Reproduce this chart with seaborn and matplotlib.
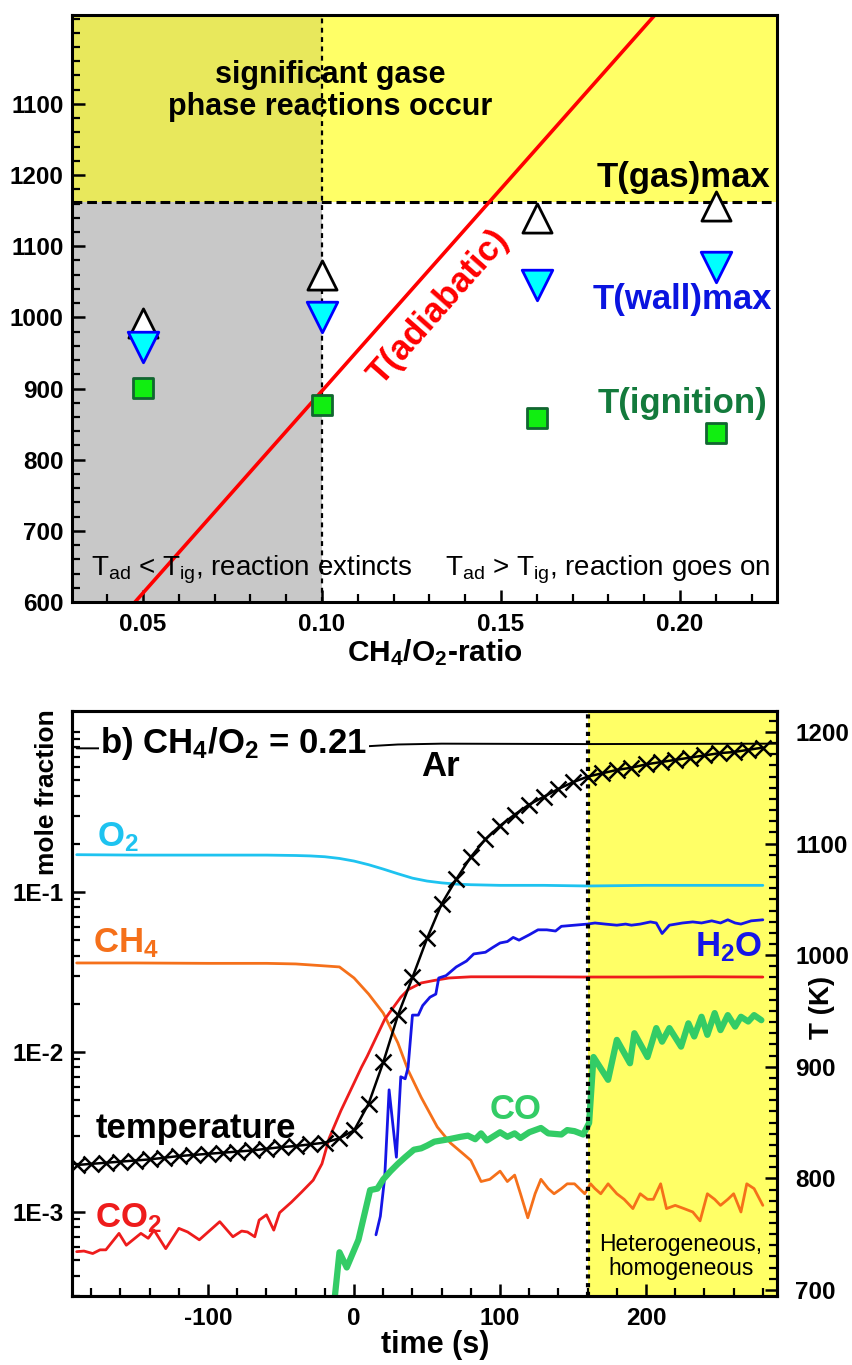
import numpy as np
import pandas as pd
import matplotlib
matplotlib.use("Agg")
import matplotlib.pyplot as plt
import seaborn as sns
from matplotlib.ticker import MultipleLocator, FixedLocator, LogLocator, NullFormatter

# ---------------- panel a data ----------------
ratio = [0.05, 0.10, 0.16, 0.21]
t_gas_max = [992, 1059, 1140, 1157]
t_wall_max = [958, 1001, 1045, 1071]
t_ignition = [901, 877, 859, 837]
adiabatic_ratio = [0.0478, 0.193]
adiabatic_T = [600, 1425]
gas_phase_limit = 1162
ratio_limit = 0.10
a_xticks = [0.05, 0.10, 0.15, 0.20]
a_xticklabels = ["0.05", "0.10", "0.15", "0.20"]
a_yticks = [600, 700, 800, 900, 1000, 1100, 1200, 1300]
a_yticklabels = ["600", "700", "800", "900", "1000", "1100", "1200", "1100"]

# ---------------- panel b data ----------------
t_temp = list(range(-190, 281, 10))
temp = [812, 813, 814, 815, 816, 817, 818.5, 820, 821, 822,
        823, 824, 825, 826.5, 828, 829, 830.5, 832, 836, 843,
        867, 904, 946, 980, 1015, 1046, 1068, 1088, 1104, 1116,
        1126, 1135, 1142, 1149, 1155, 1160, 1163, 1166, 1168, 1171,
        1173, 1175, 1177, 1179, 1181, 1182, 1184, 1186]

t_ar = [-190, -60, 0, 10, 30, 60, 160, 289]
ar = [0.79, 0.79, 0.80, 0.815, 0.835, 0.845, 0.84, 0.845]

t_o2 = [-190, -150, -100, -60, -40, -30, -20, -10, 0, 10, 20, 30, 40, 50,
        60, 70, 80, 100, 130, 160, 200, 240, 280]
o2 = [0.171, 0.170, 0.170, 0.170, 0.169, 0.168, 0.166, 0.162, 0.156, 0.148,
      0.139, 0.130, 0.122, 0.117, 0.114, 0.112, 0.111, 0.110, 0.110, 0.109,
      0.110, 0.110, 0.110]

t_ch4 = [-190, -150, -100, -60, -40, -30, -20, -10, 0, 10, 20, 30, 37, 46,
         57, 66, 75, 80, 87, 93, 100, 105, 110, 114, 119, 124, 128, 133, 137,
         142, 146, 151, 158, 162, 165, 169, 174, 180, 185, 191, 196, 201, 205,
         210, 214, 220, 226, 232, 237, 242, 247, 251, 256, 260, 265, 269, 274, 280]
ch4 = [0.036, 0.036, 0.0358, 0.0358, 0.0355, 0.035, 0.0345, 0.034, 0.029, 0.023,
       0.0175, 0.0114, 0.0077, 0.0052, 0.0034, 0.0027, 0.0023, 0.0021, 0.00155,
       0.0016, 0.0018, 0.00155, 0.0017, 0.0013, 0.00092, 0.0013, 0.0016, 0.0014,
       0.0013, 0.0014, 0.0015, 0.0015, 0.0013, 0.0015, 0.0014, 0.0013, 0.0015,
       0.0013, 0.0012, 0.00105, 0.0013, 0.0012, 0.0012, 0.0015, 0.00105, 0.0011,
       0.00105, 0.0010, 0.00088, 0.0013, 0.0012, 0.0011, 0.0012, 0.0013, 0.0010,
       0.0015, 0.0014, 0.0011]

t_co2 = [-190, -185, -179, -174, -170, -161, -156, -146, -141, -137, -129,
         -120, -114, -106, -92, -83, -77, -73, -68, -65, -60, -55, -51, -43,
         -36, -28, -22, -17, -9, 0, 5, 9, 21, 32, 37, 46, 55, 65, 80, 120,
         160, 200, 240, 280]
co2 = [5.65e-4, 5.7e-4, 5.5e-4, 5.8e-4, 5.8e-4, 7.35e-4, 6.2e-4, 7.35e-4,
       6.85e-4, 7.7e-4, 5.9e-4, 7.9e-4, 7.5e-4, 6.7e-4, 8.7e-4, 7.0e-4,
       7.6e-4, 7.5e-4, 7.0e-4, 8.9e-4, 9.6e-4, 7.7e-4, 9.9e-4, 1.15e-3,
       1.33e-3, 1.58e-3, 2.0e-3, 2.9e-3, 4.3e-3, 6.4e-3, 8.0e-3, 9.4e-3,
       0.016, 0.022, 0.0245, 0.027, 0.028, 0.029, 0.0295, 0.0295, 0.0294,
       0.0294, 0.0295, 0.0294]

t_h2o = [15, 18, 21, 24, 29, 32, 35, 37, 40, 44, 47, 52, 56, 58, 63, 70, 77,
         82, 90, 95, 100, 105, 109, 113, 120, 126, 132, 138, 142, 151, 160,
         165, 172, 180, 186, 190, 196, 203, 207, 211, 216, 225, 232, 238, 245,
         251, 256, 261, 265, 272, 280]
h2o = [7.2e-4, 9.4e-4, 1.65e-3, 5.8e-3, 2.2e-3, 7.0e-3, 6.8e-3, 8.0e-3, 0.017,
       0.017, 0.0195, 0.022, 0.023, 0.029, 0.030, 0.034, 0.037, 0.041, 0.042,
       0.045, 0.048, 0.049, 0.052, 0.050, 0.054, 0.058, 0.058, 0.057, 0.061,
       0.062, 0.063, 0.064, 0.063, 0.062, 0.063, 0.062, 0.063, 0.065, 0.064,
       0.055, 0.062, 0.064, 0.065, 0.064, 0.066, 0.064, 0.067, 0.064, 0.063,
       0.066, 0.067]

t_co = [-14, -10, -5, 3, 11, 16, 20, 25, 30, 35, 41, 46, 50, 55, 65, 73, 78,
        83, 87, 91, 100, 105, 110, 114, 120, 128, 133, 142, 146, 151, 157,
        161, 164, 174, 180, 189, 192, 201, 207, 211, 216, 224, 229, 233, 238,
        242, 247, 251, 256, 261, 265, 270, 274, 279]
co = [2.5e-4, 5.6e-4, 4.5e-4, 6.7e-4, 1.37e-3, 1.4e-3, 1.6e-3, 1.8e-3, 2.0e-3,
      2.2e-3, 2.45e-3, 2.5e-3, 2.6e-3, 2.75e-3, 2.85e-3, 2.95e-3, 3.0e-3,
      2.85e-3, 3.1e-3, 2.8e-3, 3.15e-3, 2.95e-3, 3.1e-3, 2.9e-3, 3.15e-3,
      3.35e-3, 3.1e-3, 3.05e-3, 3.25e-3, 3.2e-3, 3.05e-3, 3.6e-3, 9.3e-3,
      6.7e-3, 0.0119, 8.5e-3, 0.0131, 9.3e-3, 0.0141, 0.0116, 0.0141, 0.0108,
      0.0151, 0.0125, 0.0166, 0.0128, 0.0175, 0.0137, 0.017, 0.0144, 0.0166,
      0.0155, 0.017, 0.0158]
hetero_start = 160
b_yticks = [1e-3, 1e-2, 1e-1]
b_yticklabels = ["1E-3", "1E-2", "1E-1"]

# ---------------- style ----------------
sns.set_style("ticks")
plt.rcParams["font.family"] = ["Liberation Sans", "DejaVu Sans"]
plt.rcParams["font.weight"] = "bold"
plt.rcParams["axes.labelweight"] = "bold"
plt.rcParams["mathtext.default"] = "regular"
plt.rcParams["axes.unicode_minus"] = False
plt.rcParams["axes.linewidth"] = 2.2
for key in ["text.color", "axes.labelcolor", "xtick.color", "ytick.color",
            "axes.edgecolor", "xtick.labelcolor", "ytick.labelcolor"]:
    plt.rcParams[key] = "black"

C_O2 = "#1ec3f0"
C_CH4 = "#f5701a"
C_RED = "#ee1c1c"
C_H2O = "#1515e6"
C_CO = "#33cc66"
YELLOW = "#ffff66"
TICK_FS = 17.5

fig = plt.figure(figsize=(8.52, 13.65), dpi=100)
W, H = 852.0, 1365.0
ax1 = fig.add_axes([72 / W, 1 - 602 / H, 705 / W, 587 / H])
axb = fig.add_axes([72 / W, 1 - 1296 / H, 705 / W, 585 / H])
axt = axb.twinx()

# ================= panel a =================
ax1.fill_between([0, ratio_limit], 0, gas_phase_limit, color="#c8c8c8", lw=0, zorder=0)
ax1.fill_between([0, ratio_limit], gas_phase_limit, 3000, color="#e8e85c", lw=0, zorder=0)
ax1.fill_between([ratio_limit, 1], gas_phase_limit, 3000, color=YELLOW, lw=0, zorder=0)
ax1.axhline(gas_phase_limit, color="black", ls=(0, (3.2, 1.6)), lw=2.2, zorder=1)
ax1.axvline(ratio_limit, color="black", ls=(0, (2.2, 2.0)), lw=1.6, zorder=1)

sns.lineplot(x=adiabatic_ratio, y=adiabatic_T, ax=ax1, color="#ff0000", lw=2.6,
             sort=False, estimator=None, zorder=2)
sns.scatterplot(x=ratio, y=t_gas_max, ax=ax1, marker="^", s=21 ** 2,
                color="white", edgecolor="black", linewidth=2.0, zorder=4)
sns.scatterplot(x=ratio, y=t_wall_max, ax=ax1, marker="v", s=22 ** 2,
                color="#00ffff", edgecolor="#0000ff", linewidth=2.0, zorder=4)
sns.scatterplot(x=ratio, y=t_ignition, ax=ax1, marker="s", s=15 ** 2,
                color="#11ee11", edgecolor="#116630", linewidth=2.0, zorder=4)

ax1.set_xlim(0.0302, 0.2271)
ax1.set_ylim(600, 1425)
ax1.set_xticks(a_xticks)
ax1.set_xticklabels(a_xticklabels)
ax1.set_yticks(a_yticks)
ax1.set_yticklabels(a_yticklabels)
ax1.xaxis.set_minor_locator(MultipleLocator(0.01))
ax1.yaxis.set_minor_locator(MultipleLocator(20))
ax1.tick_params(which="major", direction="in", length=9, width=1.8, labelsize=TICK_FS,
                top=False, right=False, colors="black")
ax1.tick_params(which="minor", direction="in", length=5.5, width=1.6, top=False,
                right=False, colors="black")
ax1.tick_params(axis="x", pad=8)
ax1.tick_params(axis="y", pad=6)
for s in ax1.spines.values():
    s.set_linewidth(2.2)
    s.set_color("black")
    s.set_zorder(6)

ax1.text(0.366, 0.870, "significant gase\nphase reactions occur", transform=ax1.transAxes,
         ha="center", va="center", fontsize=22, linespacing=1.1, zorder=6)
ax1.text(0.990, 0.724, "T(gas)max", transform=ax1.transAxes, ha="right", va="center",
         fontsize=25, zorder=6)
ax1.text(0.993, 0.516, "T(wall)max", transform=ax1.transAxes, ha="right", va="center",
         fontsize=25, color="#0a14e0", zorder=6)
ax1.text(0.987, 0.339, "T(ignition)", transform=ax1.transAxes, ha="right", va="center",
         fontsize=25, color="#137a3c", zorder=6)
ax1.text(0.520, 0.503, "T(adiabatic)", transform=ax1.transAxes, ha="center", va="center",
         rotation=48.5, rotation_mode="anchor", fontsize=25, color="#ff0000", zorder=6)
ax1.text(0.255, 0.0545, r"T$_{ad}$ < T$_{ig}$, reaction extincts", transform=ax1.transAxes,
         ha="center", va="center", fontsize=20, fontweight="normal", zorder=6)
ax1.text(0.760, 0.0545, r"T$_{ad}$ > T$_{ig}$, reaction goes on", transform=ax1.transAxes,
         ha="center", va="center", fontsize=20, fontweight="normal", zorder=6)
fig.text(435 / W, 1 - 653 / H, r"CH$_4$/O$_2$-ratio", ha="center", va="center",
         fontsize=21.5, fontweight="bold")

# ================= panel b =================
axb.set_yscale("log")
axb.axvspan(hetero_start, 400, color=YELLOW, lw=0, zorder=0)

line_kw = dict(sort=False, estimator=None)
sns.lineplot(x=t_ar, y=ar, ax=axb, color="black", lw=1.4, **line_kw)
sns.lineplot(x=t_o2, y=o2, ax=axb, color=C_O2, lw=2.0, **line_kw)
sns.lineplot(x=t_ch4, y=ch4, ax=axb, color=C_CH4, lw=2.0, **line_kw)
sns.lineplot(x=t_co2, y=co2, ax=axb, color=C_RED, lw=2.0, **line_kw)
sns.lineplot(x=t_h2o, y=h2o, ax=axb, color=C_H2O, lw=2.0, **line_kw)
sns.lineplot(x=t_co, y=co, ax=axb, color=C_CO, lw=4.5, **line_kw)

sns.lineplot(x=t_temp, y=temp, ax=axt, color="black", lw=1.8, marker="x",
             markersize=11.5, markeredgewidth=1.8, markeredgecolor="black", **line_kw)
axt.axvline(hetero_start, color="black", ls=(0, (1, 1.1)), lw=3.0, zorder=5)

axb.set_xlim(-193.2, 289.7)
axb.set_ylim(2.985e-4, 1.352)
axt.set_ylim(694.6, 1218.8)

axb.xaxis.set_major_locator(MultipleLocator(100))
axb.xaxis.set_minor_locator(MultipleLocator(20))
axb.yaxis.set_major_locator(FixedLocator(b_yticks))
axb.set_yticklabels(b_yticklabels)
axb.yaxis.set_minor_locator(LogLocator(base=10, subs=np.arange(1, 10), numticks=30))
axb.yaxis.set_minor_formatter(NullFormatter())
axb.tick_params(which="major", direction="in", length=9, width=1.8, labelsize=TICK_FS,
                top=False, right=False, colors="black")
axb.tick_params(which="minor", direction="in", length=5.5, width=1.6, top=False,
                right=False, colors="black")
axb.tick_params(axis="x", pad=8)
axb.tick_params(axis="y", pad=6)

axt.yaxis.set_major_locator(MultipleLocator(100))
axt.yaxis.set_minor_locator(MultipleLocator(10))
axt.tick_params(axis="y", which="major", direction="in", length=9, width=1.8,
                labelsize=TICK_FS, right=True, left=False, labelright=True,
                labelleft=False, pad=13, colors="black")
axt.tick_params(axis="y", which="minor", direction="in", length=5.5, width=1.6,
                right=True, left=False, colors="black")
axt.set_ylabel("")
axb.set_ylabel("")
axb.set_xlabel("")
for a in (axb, axt):
    for s in a.spines.values():
        s.set_linewidth(2.2)
        s.set_color("black")

axb.text(0.040, 0.928, r"b) CH$_4$/O$_2$ = 0.21", transform=axb.transAxes, ha="left",
         va="baseline", fontsize=25, zorder=6,
         bbox=dict(facecolor="white", edgecolor="none", pad=1.0))
axb.text(0.495, 0.889, "Ar", transform=axb.transAxes, ha="left", va="baseline", fontsize=25)
axb.text(0.035, 0.768, r"O$_2$", transform=axb.transAxes, ha="left", va="baseline",
         fontsize=25, color=C_O2)
axb.text(0.030, 0.588, r"CH$_4$", transform=axb.transAxes, ha="left", va="baseline",
         fontsize=25, color=C_CH4)
axb.text(0.979, 0.581, r"H$_2$O", transform=axb.transAxes, ha="right", va="baseline",
         fontsize=25, color=C_H2O)
axb.text(0.593, 0.303, "CO", transform=axb.transAxes, ha="left", va="baseline",
         fontsize=25, color=C_CO)
axb.text(0.033, 0.270, "temperature", transform=axb.transAxes, ha="left", va="baseline",
         fontsize=25)
axb.text(0.033, 0.118, r"CO$_2$", transform=axb.transAxes, ha="left", va="baseline",
         fontsize=25, color=C_RED)
axb.text(0.864, 0.068, "Heterogeneous,\nhomogeneous", transform=axb.transAxes,
         ha="center", va="center", fontsize=16.5, fontweight="normal", linespacing=1.05,
         zorder=6)

fig.text(47 / W, 1 - 792 / H, "mole fraction", rotation=90, ha="center", va="center",
         fontsize=19, fontweight="bold")
fig.text(822 / W, 1 - 1007 / H, "T (K)", rotation=90, ha="center", va="center",
         fontsize=20, fontweight="bold")
fig.text(435 / W, 1 - 1345 / H, "time (s)", ha="center", va="center",
         fontsize=22, fontweight="bold")

fig.savefig("out.png", dpi=100)
